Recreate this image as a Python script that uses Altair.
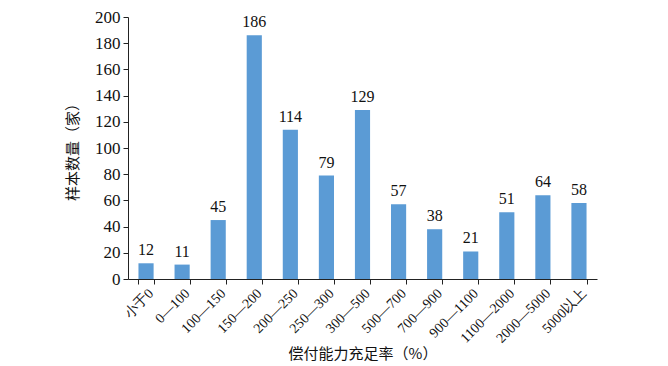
import altair as alt
import pandas as pd

categories = ["小于0", "0—100", "100—150", "150—200", "200—250", "250—300", "300—500",
              "500—700", "700—900", "900—1100", "1100—2000", "2000—5000", "5000以上"]
counts = [12, 11, 45, 186, 114, 79, 129, 57, 38, 21, 51, 64, 58]

df = pd.DataFrame({"cat": categories, "n": counts})

serif = "Liberation Serif"
cjk = "Noto Sans CJK SC"

x = alt.X("cat:N", sort=categories,
          scale=alt.Scale(paddingInner=0.58, paddingOuter=0.29),
          axis=alt.Axis(title="偿付能力充足率（%）", labelAngle=-45, labelFont=serif,
                        labelFontSize=14, labelColor="#111", titleFont=cjk,
                        titleFontSize=15, titleFontWeight="normal", titleColor="#111",
                        tickBand="extent", tickColor="#222", domainColor="#222",
                        tickSize=5, labelPadding=2, titlePadding=1, labelOverlap=False))
y = alt.Y("n:Q", scale=alt.Scale(domain=[0, 200]),
          axis=alt.Axis(title="样本数量（家）", values=list(range(0, 201, 20)), grid=False,
                        labelFont=serif, labelFontSize=17, labelColor="#111",
                        labelOverlap=False, tickCount=30,
                        titleFont=cjk, titleFontSize=15, titleFontWeight="normal",
                        titleColor="#111", tickColor="#222", domainColor="#222",
                        tickSize=5, labelPadding=3, titlePadding=14))

base = alt.Chart(df).encode(x=x, y=y)
bars = base.mark_bar(color="#5B9BD5")
labels = base.mark_text(dy=-13, font=serif, fontSize=16, color="#111").encode(text="n:Q")

chart = alt.layer(bars, labels).properties(
    width=469, height=262, background="white",
    autosize=alt.AutoSizeParams(type="none"),
    padding={"left": 120, "top": 9, "right": 60, "bottom": 86},
).configure_view(stroke=None)

chart.save("out.html", embed_options={"renderer": "svg", "actions": False})
